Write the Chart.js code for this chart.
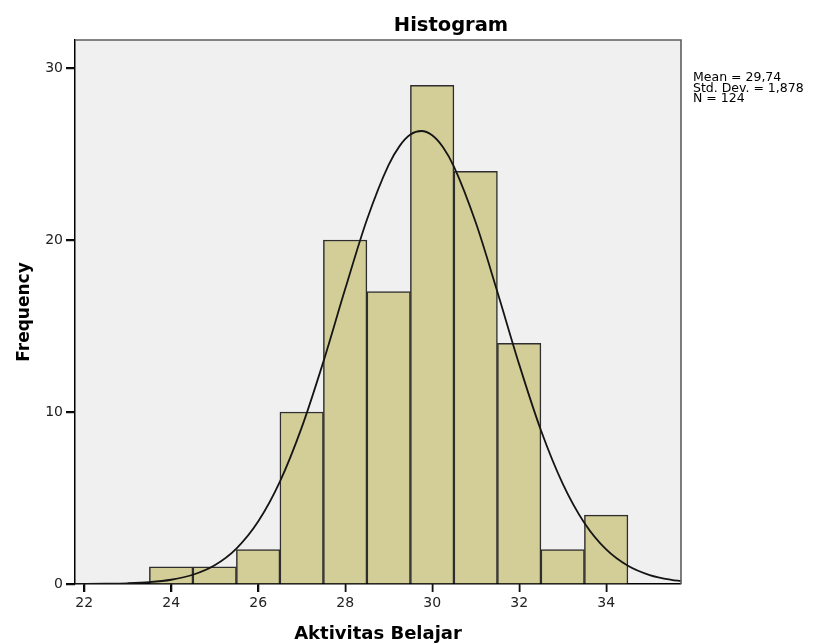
<!DOCTYPE html>
<html lang="id">
<head>
  <meta charset="UTF-8" />
  <title>Histogram</title>
  <script src="https://cdn.jsdelivr.net/npm/chart.js"></script>
  <style>
    body { margin: 0; background: #fff; }
    .wrap { width: 814px; height: 643px; }
  </style>
</head>
<body>
  <div class="wrap"><canvas id="hist" width="814" height="643"></canvas></div>
  <script>
    // bins (centre of each bar) and counts
    const binCenters = [24, 25, 26, 27, 28, 29, 30, 31, 32, 33, 34];
    const frequencies = [1, 1, 2, 10, 20, 17, 29, 24, 14, 2, 4];

    // normal curve
    const curveX = [21.79, 22, 22.5, 23, 23.5, 24, 24.5, 25, 25.5, 26, 26.5, 27, 27.5, 28, 28.5, 29, 29.25, 29.5, 29.75,
                    30, 30.25, 30.5, 31, 31.5, 32, 32.5, 33, 33.5, 34, 34.5, 35, 35.5, 35.72];
    const curveY = [0.003, 0.005, 0.016, 0.042, 0.106, 0.247, 0.537, 1.09, 2.06, 3.63, 5.95, 9.09, 12.93, 17.15, 21.18, 24.37, 25.46, 26.13, 26.34,
                    26.09, 25.39, 24.27, 21.03, 16.98, 12.77, 8.94, 5.84, 3.55, 2.01, 1.06, 0.52, 0.24, 0.17];

    const xTicks = [22, 24, 26, 28, 30, 32, 34];
    const yTicks = [0, 10, 20, 30];
    const statsLines = ['Mean = 29,74', 'Std. Dev. = 1,878', 'N = 124'];

    const FONT = "'DejaVu Sans', Verdana, sans-serif";

    // grey plot background, frame, tick marks, title and stats text
    const decor = {
      id: 'decor',
      beforeDraw(chart) {
        const { ctx, chartArea: a } = chart;
        ctx.save();
        ctx.fillStyle = '#f0f0f0';
        ctx.fillRect(a.left, a.top, a.right - a.left, a.bottom - a.top);
        ctx.restore();
      },
      afterDraw(chart) {
        const { ctx, chartArea: a, scales } = chart;
        ctx.save();
        ctx.setLineDash([]);
        ctx.globalAlpha = 1;
        ctx.strokeStyle = '#5e5e5e';
        ctx.lineWidth = 1.6;
        ctx.beginPath();
        ctx.moveTo(a.left, a.top);
        ctx.lineTo(a.right, a.top);
        ctx.lineTo(a.right, a.bottom);
        ctx.stroke();

        // tick marks outside the axes
        ctx.strokeStyle = '#111';
        ctx.lineWidth = 1.6;
        ctx.beginPath();
        xTicks.forEach(v => {
          const px = Math.round(scales.x.getPixelForValue(v)) + 0.5;
          ctx.moveTo(px, a.bottom);
          ctx.lineTo(px, a.bottom + 8);
        });
        yTicks.forEach(v => {
          const py = Math.round(scales.y.getPixelForValue(v)) + 0.5;
          ctx.moveTo(a.left - 9, py);
          ctx.lineTo(a.left, py);
        });
        ctx.stroke();

        ctx.fillStyle = '#000';
        ctx.textAlign = 'center';
        ctx.textBaseline = 'alphabetic';
        ctx.font = 'bold 19.5px ' + FONT;
        ctx.fillText('Histogram', 451, 31);

        ctx.textAlign = 'left';
        ctx.font = '12.5px ' + FONT;
        statsLines.forEach((t, i) => ctx.fillText(t, 693, 81 + i * 10.5));
        ctx.restore();
      }
    };

    new Chart(document.getElementById('hist'), {
      data: {
        datasets: [
          {
            type: 'line',
            data: curveX.map((x, i) => ({ x: x, y: curveY[i] })),
            borderColor: '#151515',
            borderWidth: 1.8,
            pointRadius: 0,
            cubicInterpolationMode: 'monotone',
            fill: false
          },
          {
            type: 'bar',
            data: binCenters.map((x, i) => ({ x: x, y: frequencies[i] })),
            backgroundColor: '#d3ce97',
            borderColor: '#2e2e2e',
            borderWidth: 1.5,
            barPercentage: 1,
            categoryPercentage: 1
          }
        ]
      },
      options: {
        responsive: false,
        animation: false,
        layout: { padding: { top: 40, right: 133, left: 0, bottom: 0 } },
        plugins: { legend: { display: false }, tooltip: { enabled: false } },
        scales: {
          x: {
            type: 'linear',
            offset: false,
            min: 21.79,
            max: 35.72,
            afterBuildTicks: s => { s.ticks = xTicks.map(v => ({ value: v })); },
            afterFit: s => { s.height = 59; },
            grid: { offset: false, drawOnChartArea: false, drawTicks: true, tickLength: 8, color: '#000', lineWidth: 1.3 },
            border: { display: true, color: '#000', width: 1.5 },
            ticks: { color: '#222', padding: 3, font: { family: FONT, size: 14 } },
            title: { display: true, text: 'Aktivitas Belajar', color: '#000', padding: { top: 0, bottom: 0 },
                     font: { family: FONT, size: 18, weight: 'bold', lineHeight: 1 } }
          },
          y: {
            min: 0,
            max: 31.63,
            afterBuildTicks: s => { s.ticks = yTicks.map(v => ({ value: v })); },
            afterFit: s => { s.width = 75; },
            grid: { drawOnChartArea: false, drawTicks: true, tickLength: 9, color: '#000', lineWidth: 1.3 },
            border: { display: true, color: '#000', width: 1.5 },
            ticks: { color: '#222', padding: 3, font: { family: FONT, size: 14 } },
            title: { display: true, text: 'Frequency', color: '#000', padding: { top: 16, bottom: 0 },
                     font: { family: FONT, size: 17, weight: 'bold', lineHeight: 1 } }
          }
        }
      },
      plugins: [decor]
    });
  </script>
</body>
</html>
